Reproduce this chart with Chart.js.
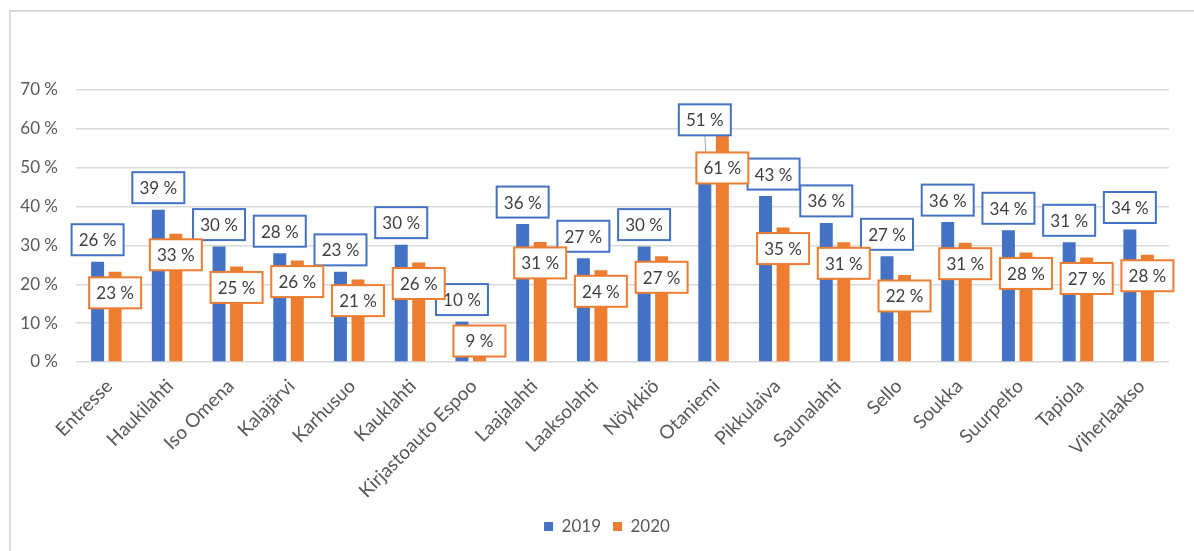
<!DOCTYPE html>
<html>
<head>
<meta charset="utf-8">
<script src="https://cdn.jsdelivr.net/npm/chart.js@4"></script>
<style>
  body { margin: 0; background: #fff; }
  #wrap { position: relative; width: 1194px; height: 551px; overflow: hidden; }
  #frame { position: absolute; left: 9px; top: 10px; width: 1400px; height: 800px;
           border-left: 2px solid #d9d9d9; border-top: 2px solid #d9d9d9; }
  canvas { position: absolute; left: 0; top: 0; }
</style>
</head>
<body>
<div id="wrap">
  <div id="frame"></div>
  <canvas id="chart" width="1194" height="551"></canvas>
</div>
<script>
// data (percent)
const libraries = ["Entresse", "Haukilahti", "Iso Omena", "Kalajärvi", "Karhusuo", "Kauklahti",
  "Kirjastoauto Espoo", "Laajalahti", "Laaksolahti", "Nöykkiö", "Otaniemi", "Pikkulaiva",
  "Saunalahti", "Sello", "Soukka", "Suurpelto", "Tapiola", "Viherlaakso"];
const years = ["2019", "2020"];
const share2019 = [25.8, 39.2, 29.7, 28.0, 23.2, 30.2, 10.4, 35.5, 26.7, 29.7, 51.0, 42.7, 35.8, 27.2, 36.0, 33.9, 30.8, 34.1];
const share2020 = [23.2, 33.0, 24.6, 26.1, 21.2, 25.6, 9.0, 30.9, 23.6, 27.2, 61.0, 34.6, 30.8, 22.4, 30.7, 28.2, 26.9, 27.6];
const yTicks = [0, 10, 20, 30, 40, 50, 60, 70];

const colors = ["#4472C4", "#ED7D31"];
const FONT = "Lato, 'Open Sans', sans-serif";

// labels that were moved by hand in the original (dataset-index)
const nudge = {
  "0-10": { dy: -22, leader: true },
  "1-10": { dy: 22 },
  "0-11": { dx: 8 }
};

const boxLabels = {
  id: "boxLabels",
  afterDatasetsDraw(chart) {
    const ctx = chart.ctx;
    const area = chart.chartArea;
    ctx.save();
    ctx.font = "17px " + FONT;
    ctx.textAlign = "center";
    ctx.textBaseline = "middle";
    chart.data.datasets.forEach((ds, di) => {
      const meta = chart.getDatasetMeta(di);
      meta.data.forEach((bar, i) => {
        const v = ds.data[i];
        const txt = Math.round(v) + " %";
        const n = nudge[di + "-" + i] || {};
        let cx = bar.x + (n.dx || 0);
        let cy = di === 0 ? bar.y - 22 : bar.y + 21;
        cy += n.dy || 0;
        if (cy > area.bottom - 21) cy = area.bottom - 21;
        const w = 52, h = 31;
        if (n.leader) {
          ctx.strokeStyle = "#a6a6a6";
          ctx.lineWidth = 1;
          ctx.beginPath();
          ctx.moveTo(cx, cy + h / 2);
          ctx.lineTo(bar.x + 1, bar.y - 10);
          ctx.stroke();
        }
        ctx.fillStyle = "#fff";
        ctx.fillRect(cx - w / 2, cy - h / 2, w, h);
        ctx.strokeStyle = colors[di];
        ctx.lineWidth = 2;
        ctx.strokeRect(cx - w / 2, cy - h / 2, w, h);
        ctx.fillStyle = "#404040";
        ctx.fillText(txt, cx, cy + 1);
      });
    });
    ctx.restore();
  }
};

// slanted category names, anchored at each tick of the x scale
const slantLabels = {
  id: "slantLabels",
  afterDraw(chart) {
    const ctx = chart.ctx;
    const xs = chart.scales.x;
    ctx.save();
    ctx.font = "19px " + FONT;
    ctx.fillStyle = "#595959";
    ctx.textAlign = "right";
    ctx.textBaseline = "middle";
    chart.data.labels.forEach((lab, i) => {
      ctx.save();
      ctx.translate(xs.getPixelForValue(i) + 3, chart.chartArea.bottom + 21);
      ctx.rotate(-Math.PI / 4);
      ctx.fillText(lab, 0, 0);
      ctx.restore();
    });
    ctx.restore();
  }
};

new Chart(document.getElementById("chart"), {
  type: "bar",
  data: {
    labels: libraries,
    datasets: [
      { label: years[0], data: share2019, backgroundColor: colors[0] },
      { label: years[1], data: share2020, backgroundColor: colors[1] }
    ]
  },
  options: {
    responsive: false,
    animation: false,
    categoryPercentage: 0.577,
    barPercentage: 0.74,
    layout: { padding: { left: 20, right: 0, top: 90, bottom: 6 } },
    plugins: {
      legend: {
        position: "bottom",
        labels: {
          boxWidth: 9, boxHeight: 9, padding: 12, color: "#595959",
          font: { family: FONT, size: 17 }
        }
      },
      tooltip: { enabled: false }
    },
    scales: {
      y: {
        min: 0, max: 70,
        afterBuildTicks(scale) { scale.ticks = yTicks.map(v => ({ value: v })); },
        afterFit(scale) { scale.width = 56; },
        grid: { color: "#d9d9d9", lineWidth: 1.5, drawTicks: false },
        border: { display: false },
        ticks: {
          padding: 18, color: "#595959",
          font: { family: FONT, size: 17 },
          callback: v => v + " %"
        }
      },
      // small empty margin on the right of the plot
      side: {
        position: "right",
        grid: { display: false },
        border: { display: false },
        ticks: { display: false },
        afterFit(scale) { scale.width = 25; }
      },
      x: {
        grid: { display: false },
        border: { display: false },
        afterFit(scale) { scale.height = 144; },
        ticks: { display: false }
      }
    }
  },
  plugins: [boxLabels, slantLabels]
});
</script>
</body>
</html>
